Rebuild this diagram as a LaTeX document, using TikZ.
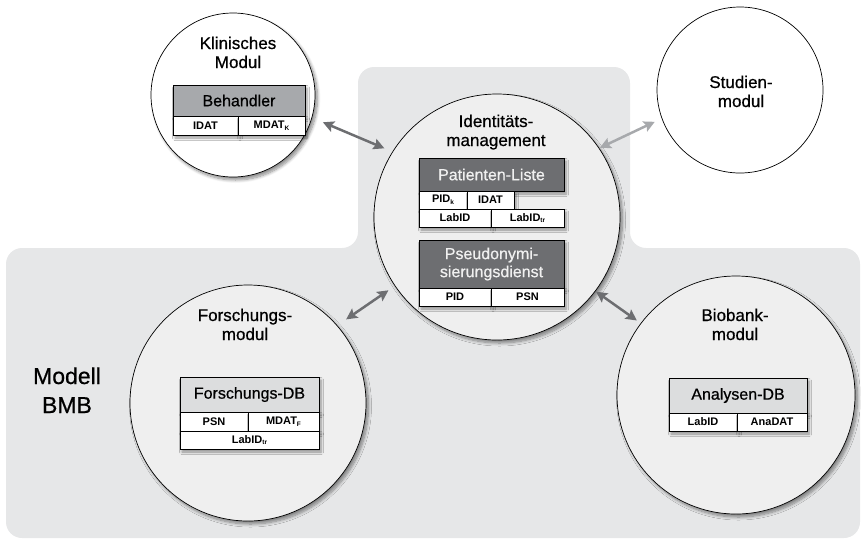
\documentclass[tikz,border=0pt]{standalone}
\usepackage{fontspec}
\setmainfont{Liberation Sans}
\newfontfamily\medfont{Liberation Sans}[FakeBold=0.6]
\usetikzlibrary{arrows.meta,shadows.blur}
\definecolor{bgray}{HTML}{E6E7E8}
\definecolor{cfill}{HTML}{EFEFEF}
\definecolor{darkhdr}{HTML}{6D6E71}
\definecolor{midhdr}{HTML}{A7A9AC}
\definecolor{lighthdr}{HTML}{DCDDDE}
\definecolor{arrdark}{HTML}{6D6E71}
\definecolor{arrlight}{HTML}{A7A9AC}
\newcommand\lowidx[1]{\raisebox{-0.3ex}{\fontsize{6.5}{6.5}\selectfont #1}}
\begin{document}
\begin{tikzpicture}[x=1pt,y=-1pt,
  modul/.style={circle,draw=black,line width=0.7pt,inner sep=0pt,outer sep=0pt},
  shad/.style={blur shadow={shadow xshift=2.5pt,shadow yshift=-3pt,shadow blur radius=3pt,shadow blur steps=8,shadow opacity=45}},
  tshad/.style={blur shadow={shadow xshift=2pt,shadow yshift=-3pt,shadow blur radius=2.5pt,shadow blur steps=6,shadow opacity=40}},
  title/.style={font=\medfont\fontsize{17}{19}\selectfont,align=center,anchor=base,inner sep=0pt},
  hdr/.style={draw=black,line width=0.6pt,inner sep=0pt,outer sep=0pt,font=\medfont\fontsize{16}{18}\selectfont,align=center,tshad},
  cell/.style={draw=black,line width=0.6pt,fill=white,inner sep=0pt,outer sep=0pt,font=\bfseries\fontsize{11}{12}\selectfont,minimum height=18pt,tshad},
  link/.style={line width=2.5pt,{Stealth[length=11pt,width=11pt,inset=2pt]}-{Stealth[length=11pt,width=11pt,inset=2pt]}}
]
\useasboundingbox (0,0) rectangle (866,542);
% background region
\fill[bgray,rounded corners=16pt] (6,248) -- (358,248) -- (358,67) -- (630,67) -- (630,248) -- (860,248) -- (860,538) -- (6,538) -- cycle;

% modules
\node[modul,fill=white,shad,minimum size=164pt] (klin) at (233,95) {};
\node[modul,fill=white,minimum size=166pt] (stud) at (740,90) {};
\node[modul,fill=cfill,shad,minimum size=246pt] (idm) at (497,217) {};
\node[modul,fill=cfill,shad,minimum size=236pt] (forsch) at (248,403) {};
\node[modul,fill=cfill,shad,minimum size=238pt] (bio) at (736,395) {};

% titles (anchor = baseline of last line)
\node[title] (klinT) at (238,68) {Klinisches\\Modul};
\node[title] (studT) at (741,107) {Studien-\\modul};
\node[title] (idmT) at (496,146) {Identitäts-\\management};
\node[title] (forschT) at (245,340) {Forschungs-\\modul};
\node[title] (bioT) at (735,340) {Biobank-\\modul};
\node[font=\medfont\fontsize{23}{29}\selectfont,align=center,anchor=base,inner sep=0pt] (bmb) at (67,413) {Modell\\BMB};

% Behandler
\node[hdr,fill=midhdr,minimum width=132pt,minimum height=31pt] (beh) at (239,100.5) {Behandler};
\node[cell,minimum width=65pt,minimum height=19pt] (behI) at (205.5,125.5) {IDAT};
\node[cell,minimum width=67pt,minimum height=19pt] (behM) at (271.5,125.5) {MDAT\lowidx{K}};

% Patienten-Liste
\node[hdr,fill=darkhdr,text=white!94!black,minimum width=145pt,minimum height=33pt] (pat) at (491.5,174.5) {Patienten-Liste};
\node[cell,minimum width=48pt] (patP) at (443,200) {PID\lowidx{k}};
\node[cell,minimum width=47pt] (patI) at (490.5,200) {IDAT};
\node[cell,minimum width=72pt] (patL) at (455,218) {LabID};
\node[cell,minimum width=73pt] (patT) at (527.5,218) {LabID\lowidx{tr}};

% Pseudonymisierungsdienst
\node[hdr,fill=darkhdr,text=white!94!black,minimum width=145pt,minimum height=48pt] (psd) at (491.5,264) {Pseudonymi-\\sierungsdienst};
\node[cell,minimum width=72pt] (psdP) at (455,297) {PID};
\node[cell,minimum width=73pt] (psdS) at (527.5,297) {PSN};

% Forschungs-DB
\node[hdr,fill=lighthdr,minimum width=139pt,minimum height=35pt] (fdb) at (249.5,394.5) {Forschungs-DB};
\node[cell,minimum width=68pt,minimum height=19pt] (fdbP) at (214,421.5) {PSN};
\node[cell,minimum width=71pt,minimum height=19pt] (fdbM) at (283.5,421.5) {MDAT\lowidx{F}};
\node[cell,minimum width=139pt] (fdbL) at (249.5,440) {LabID\lowidx{tr}};

% Analysen-DB
\node[hdr,fill=lighthdr,minimum width=138pt,minimum height=35pt] (adb) at (738,395.5) {Analysen-DB};
\node[cell,minimum width=68pt] (adbL) at (703,422) {LabID};
\node[cell,minimum width=70pt] (adbA) at (772,422) {AnaDAT};

% connectors
\draw[link,arrdark,shorten <=12pt,shorten >=9pt] (klin.-16) -- (idm.148);
\draw[link,arrlight,shorten <=1pt,shorten >=8pt] (idm.34) -- (stud.-160);
\draw[link,arrdark,shorten <=8pt,shorten >=11pt] (idm.-146) -- (forsch.41);
\draw[link,arrdark,shorten <=1pt,shorten >=5pt] (idm.-37) -- (bio.143);
\end{tikzpicture}
\end{document}
